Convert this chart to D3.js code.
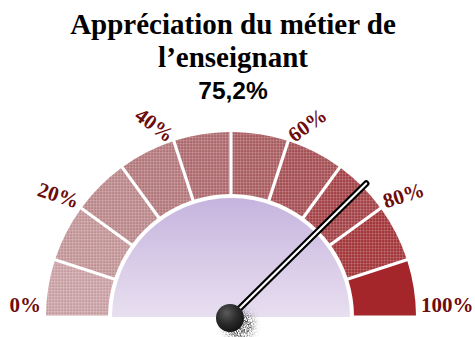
<!DOCTYPE html>
<html lang="fr">
<head>
<meta charset="utf-8">
<script src="https://cdn.jsdelivr.net/npm/d3@7"></script>
<style>
  html, body { margin: 0; padding: 0; background: #fff; }
  svg { display: block; }
</style>
</head>
<body>
<svg id="chart" width="475" height="337"></svg>
<script>
// Title lines and the headline value
const titleLines = ["Appréciation du métier de", "l’enseignant"];
const gaugeValue = 75.2;
const valueText = "75,2%";

// Gauge bands (percent bounds) and their fill colours
const bandStarts = [0, 10, 20, 30, 40, 50, 60, 70, 80, 90];
const bandEnds   = [10, 20, 30, 40, 50, 60, 70, 80, 90, 100];
const bandColors = ["#cba3a6", "#c5979a", "#bd8a8d", "#b67b7f", "#b06d71",
                    "#ab6064", "#a85357", "#a6464a", "#a5393d", "#a4262b"];
const bandTextured = [true, true, true, true, true, true, true, true, true, false];

// Scale ticks
const tickValues = [0, 20, 40, 60, 80, 100];
const tickLabels = ["0%", "20%", "40%", "60%", "80%", "100%"];

const svg = d3.select("#chart");
const cx = 231, cy = 317;
const rOuter = 185, rInner = 123, rDial = 119;

const defs = svg.append("defs");

// fine cross-hatch texture laid over the bands
const pat = defs.append("pattern")
  .attr("id", "hatch").attr("patternUnits", "userSpaceOnUse")
  .attr("width", 3).attr("height", 3);
pat.append("rect").attr("width", 3).attr("height", 1).attr("fill", "#fff").attr("opacity", 0.14);
pat.append("rect").attr("width", 1).attr("height", 3).attr("fill", "#fff").attr("opacity", 0.14);
pat.append("rect").attr("x", 2).attr("y", 2).attr("width", 1).attr("height", 1).attr("fill", "#000").attr("opacity", 0.07);

// dial face gradient
const grad = defs.append("linearGradient")
  .attr("id", "dialGrad").attr("x1", 0).attr("y1", 0).attr("x2", 0).attr("y2", 1);
grad.append("stop").attr("offset", "0%").attr("stop-color", "#c6b4de");
grad.append("stop").attr("offset", "100%").attr("stop-color", "#e8dff0");

// hub shading
const hubGrad = defs.append("radialGradient")
  .attr("id", "hubGrad").attr("cx", "38%").attr("cy", "32%").attr("r", "70%");
hubGrad.append("stop").attr("offset", "0%").attr("stop-color", "#5a5a5a");
hubGrad.append("stop").attr("offset", "55%").attr("stop-color", "#2b2b2b");
hubGrad.append("stop").attr("offset", "100%").attr("stop-color", "#151515");

// grainy shadow under the hub
const grain = defs.append("filter").attr("id", "grain")
  .attr("x", "-50%").attr("y", "-50%").attr("width", "200%").attr("height", "200%");
grain.append("feGaussianBlur").attr("in", "SourceGraphic").attr("stdDeviation", 3.5).attr("result", "b");
grain.append("feTurbulence").attr("type", "fractalNoise").attr("baseFrequency", 1.3)
  .attr("numOctaves", 1).attr("seed", 3).attr("result", "n");
grain.append("feColorMatrix").attr("in", "n").attr("type", "matrix")
  .attr("values", "0 0 0 0 0  0 0 0 0 0  0 0 0 0 0  3 0 0 0 -1.1").attr("result", "na");
grain.append("feComposite").attr("in", "b").attr("in2", "na").attr("operator", "in");

// value -> angle (d3.arc convention: 0 at top, clockwise)
const angle = d3.scaleLinear().domain([0, 100]).range([-Math.PI / 2, Math.PI / 2]);
const polar = (v, r) => [cx + r * Math.sin(angle(v)), cy - r * Math.cos(angle(v))];

const g = svg.append("g");

// Title
const title = svg.append("g").attr("text-anchor", "middle");
title.selectAll("text.t").data(titleLines).join("text")
  .attr("class", "t")
  .attr("x", 233).attr("y", (d, i) => 34 + i * 32.5)
  .attr("font-family", "'Liberation Serif', 'Times New Roman', serif")
  .attr("font-weight", "bold").attr("font-size", 29).attr("fill", "#000")
  .text(d => d);
title.append("text")
  .attr("x", 233).attr("y", 99)
  .attr("font-family", "'Liberation Sans', Arial, sans-serif")
  .attr("font-weight", "bold").attr("font-size", 24.5).attr("fill", "#000")
  .text(valueText);

// Bands
const bands = bandStarts.map((s, i) => ({ s, e: bandEnds[i], color: bandColors[i], tex: bandTextured[i] }));
const arc = d3.arc()
  .innerRadius(rInner).outerRadius(rOuter)
  .startAngle(d => angle(d.s)).endAngle(d => angle(d.e))
  .padAngle(3.2 / 150).padRadius(150);

g.selectAll("path.band").data(bands).join("path")
  .attr("class", "band")
  .attr("transform", `translate(${cx},${cy})`)
  .attr("d", arc).attr("fill", d => d.color);
g.selectAll("path.tex").data(bands.filter(d => d.tex)).join("path")
  .attr("class", "tex")
  .attr("transform", `translate(${cx},${cy})`)
  .attr("d", arc).attr("fill", "url(#hatch)");

// Dial face
g.append("path")
  .attr("transform", `translate(${cx},${cy})`)
  .attr("d", d3.arc().innerRadius(0).outerRadius(rDial)
    .startAngle(angle(0)).endAngle(angle(100))())
  .attr("fill", "url(#dialGrad)");

// Tick labels: each label sits just outside the ring, its inner end on the tick angle,
// tilted half-way toward the radial direction
const labelR = 190;
g.selectAll("text.tick").data(tickValues).join("text")
  .attr("class", "tick")
  .attr("transform", d => {
    const [x, y] = polar(d, labelR);
    const deg = d * 1.8;                       // angle from the left end
    const rot = deg <= 90 ? deg / 2 : (deg - 180) / 2;
    return `translate(${x},${y}) rotate(${rot})`;
  })
  .attr("y", d => -5 + 14 * Math.sin(d * 1.8 * Math.PI / 180))
  .attr("text-anchor", d => d < 50 ? "end" : "start")
  .attr("font-family", "'Liberation Serif', 'Times New Roman', serif")
  .attr("font-weight", "bold").attr("font-size", 21).attr("fill", "#6e0b0b")
  .text((d, i) => tickLabels[i]);

// Needle
const [tx, ty] = polar(gaugeValue, 190);
g.append("line").attr("x1", cx).attr("y1", cy).attr("x2", tx).attr("y2", ty)
  .attr("stroke", "#000").attr("stroke-width", 6.5).attr("stroke-linecap", "round");
g.append("line").attr("x1", cx).attr("y1", cy).attr("x2", tx).attr("y2", ty)
  .attr("stroke", "#fff").attr("stroke-width", 2.2).attr("stroke-linecap", "round");

// Hub with its shadow
g.append("circle").attr("cx", cx + 8).attr("cy", cy + 8).attr("r", 15)
  .attr("fill", "#444").attr("filter", "url(#grain)");
g.append("circle").attr("cx", cx - 1).attr("cy", cy + 1).attr("r", 14)
  .attr("fill", "url(#hubGrad)");
</script>
</body>
</html>
